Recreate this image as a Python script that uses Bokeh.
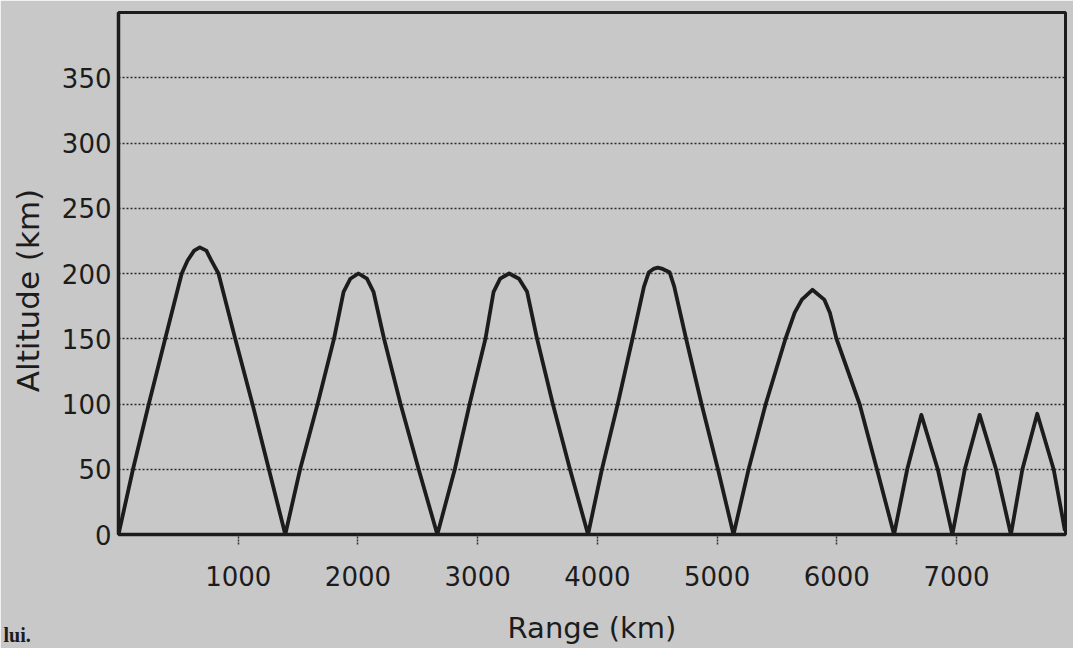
import math
from bokeh.plotting import figure
from bokeh.models import FixedTicker, Range1d, Label
from bokeh.embed import file_html
from bokeh.resources import INLINE

# Traced trajectory (range km, altitude km)
range_km = [0, 121, 253, 390, 528, 577, 632, 679, 734, 775, 835, 975, 1119, 1256, 1393,
            1517, 1663, 1800, 1880, 1937, 2004, 2075, 2130, 2218, 2356, 2507, 2663,
            2809, 2933, 3065, 3133, 3188, 3263, 3345, 3413, 3496, 3628, 3771, 3922,
            4038, 4170, 4293, 4389, 4430, 4468, 4504, 4545, 4603, 4642, 4741, 4870, 5007, 5137,
            5263, 5406, 5571, 5648, 5708, 5796, 5895, 5942, 5997, 6190, 6335, 6478,
            6588, 6706, 6843, 6965, 7069, 7193, 7330, 7454, 7550, 7674, 7811, 7905]
altitude_km = [0, 50, 100, 150, 200, 210, 217.5, 220, 217.5, 210, 200, 150, 100, 50, 0,
               50, 100, 150, 186, 196, 200, 196, 186, 150, 100, 50, 0,
               50, 100, 150, 186, 196, 200, 196, 186, 150, 100, 50, 0,
               50, 100, 150, 190, 201, 203.5, 204.5, 203.5, 201, 190, 150, 100, 50, 0,
               50, 100, 150, 170, 180, 187.5, 180, 170, 150, 100, 50, 0,
               50, 91.7, 50, 0, 50, 91.7, 50, 0, 50, 92.5, 50, 3]

x_ticks = [1000, 2000, 3000, 4000, 5000, 6000, 7000]
y_ticks = [0, 50, 100, 150, 200, 250, 300, 350]
grid_levels = [50, 100, 150, 200, 250, 300, 350]

x_title = "Range (km)"
y_title = "Altitude (km)"
stray_text = "lui."

paper = "#c8c8c8"
ink = "#1c1c1c"
font = "DejaVu Sans"

p = figure(width=1073, height=648, output_backend="svg", toolbar_location=None,
           x_range=Range1d(0, 7910), y_range=Range1d(0, 400),
           min_border_left=118, min_border_right=8, min_border_top=12, min_border_bottom=114)
p.background_fill_color = paper
p.border_fill_color = paper
p.outline_line_color = ink
p.outline_line_width = 3

p.xgrid.visible = False
p.ygrid.ticker = FixedTicker(ticks=grid_levels)
p.ygrid.grid_line_color = "#2a2a2a"
p.ygrid.grid_line_width = 1.6
p.ygrid.grid_line_dash = "2 2"

for ax in (p.xaxis[0], p.yaxis[0]):
    ax.axis_line_color = ink
    ax.axis_line_width = 3.5
    ax.minor_tick_line_color = None
    ax.major_label_text_font = font
    ax.major_label_text_font_size = "26px"
    ax.major_label_text_color = ink

p.xaxis.ticker = FixedTicker(ticks=x_ticks)
p.xaxis.major_tick_in = 0
p.xaxis.major_tick_out = 10
p.xaxis.major_tick_line_color = "#333333"
p.xaxis.major_tick_line_width = 1.5
p.xaxis.major_tick_line_dash = "2 1"
p.xaxis.major_label_standoff = 21

p.yaxis.ticker = FixedTicker(ticks=y_ticks)
p.yaxis.major_tick_in = 0
p.yaxis.major_tick_out = 0
p.yaxis.major_label_standoff = 7

p.line(range_km, altitude_km, line_color=ink, line_width=3.8, line_join="round")

# axis titles and the stray page text, as labels in side panels (not clipped)
p.add_layout(Label(x=-755, y=187, text=y_title, text_font=font, text_font_size="31px",
                   text_color=ink, text_align="center", text_baseline="middle",
                   angle=math.pi / 2), "left")
p.add_layout(Label(x=3955, y=-72, text=x_title, text_font=font, text_font_size="29px",
                   text_color=ink, text_align="center", text_baseline="middle"), "below")
p.add_layout(Label(x=-960, y=-77, text=stray_text,
                   text_font="Liberation Serif", text_font_style="bold",
                   text_font_size="20px", text_color=ink, text_baseline="middle"),
             "below")

open("out.html", "w").write(file_html(p, INLINE))
